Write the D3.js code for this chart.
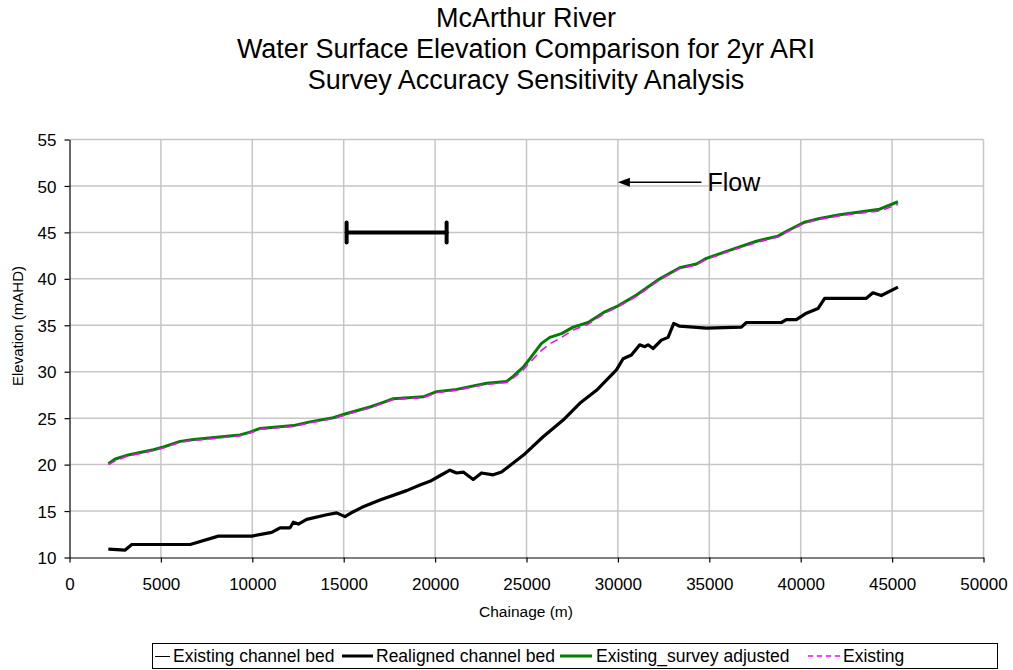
<!DOCTYPE html>
<html><head><meta charset="utf-8">
<script src="https://cdn.jsdelivr.net/npm/d3@7"></script>
<style>body{margin:0;background:#fff;} text{font-family:"Liberation Sans",Arial,sans-serif;}</style>
</head><body><svg id="c" width="1013" height="670"></svg>
<script>
const titleLines = ["McArthur River","Water Surface Elevation Comparison for 2yr ARI","Survey Accuracy Sensitivity Analysis"];
const xTicks = [0,5000,10000,15000,20000,25000,30000,35000,40000,45000,50000];
const yTicks = [10,15,20,25,30,35,40,45,50,55];
const seriesNames = ["Existing channel bed","Realigned channel bed","Existing_survey adjusted","Existing"];

const bedX = [2130,3045,3410,6600,8145,9970,11060,11520,12065,12245,12520,12975,14070,14615,15070,15500,16000,16985,18440,19170,19720,20260,20810,21175,21540,22085,22540,23180,23635,24820,25910,27005,27915,28830,29920,30285,30740,31195,31470,31650,31925,32380,32745,33055,33380,34840,36755,37030,38945,39215,39760,40310,40945,41310,43590,43950,44410,45320];
const existingBedY = [10.9,10.8,11.4,11.4,12.3,12.3,12.7,13.2,13.2,13.8,13.6,14.1,14.6,14.8,14.4,14.9,15.4,16.2,17.2,17.8,18.2,18.8,19.4,19.1,19.2,18.4,19.1,18.9,19.2,21.0,23.0,24.8,26.6,28.0,30.2,31.4,31.8,32.9,32.7,32.9,32.5,33.4,33.7,35.2,34.9,34.7,34.8,35.3,35.3,35.6,35.6,36.3,36.8,37.9,37.9,38.5,38.2,39.1];
const realignedBedY = [10.9,10.8,11.4,11.4,12.3,12.3,12.7,13.2,13.2,13.8,13.6,14.1,14.6,14.8,14.4,14.9,15.4,16.2,17.2,17.8,18.2,18.8,19.4,19.1,19.2,18.4,19.1,18.9,19.2,21.0,23.0,24.8,26.6,28.0,30.2,31.4,31.8,32.9,32.7,32.9,32.5,33.4,33.7,35.2,34.9,34.7,34.8,35.3,35.3,35.6,35.6,36.3,36.8,37.9,37.9,38.5,38.2,39.1];

const wseX = [2130,2500,3140,4590,5140,6050,6780,9330,9880,10425,12245,13155,14430,15070,16437,17165,17710,19350,20080,21175,22815,23910,24270,24820,25185,25820,26275,26915,27550,28370,29285,29920,31015,32290,33380,34295,34840,36295,37575,38755,39305,40215,41035,42130,44315,45320];
const surveyAdjY = [20.1,20.6,21.0,21.6,21.9,22.5,22.7,23.2,23.5,23.9,24.2,24.6,25.05,25.45,26.2,26.7,27.1,27.3,27.85,28.1,28.75,28.95,29.5,30.5,31.4,33.05,33.7,34.1,34.8,35.3,36.45,37.0,38.25,40.0,41.2,41.6,42.2,43.2,44.05,44.6,45.2,46.1,46.5,46.9,47.5,48.3];
const existingY = [20.0,20.4,20.9,21.5,21.8,22.4,22.6,23.1,23.4,23.8,24.1,24.5,24.95,25.35,26.1,26.6,27.0,27.2,27.75,28.0,28.65,28.85,29.3,30.2,31.0,32.3,33.0,33.7,34.5,35.1,36.3,36.9,38.1,39.9,41.1,41.5,42.1,43.1,43.9,44.5,45.1,46.0,46.4,46.8,47.3,48.0];

// annotations (data units)
const scaleBar = {x0:15160, x1:20630, y:45};
const flowArrow = {xFrom:34570, xTo:30000, y:50.4, label:"Flow"};

const svg = d3.select("#c");
const L=69.5, R=983.5, T=139.5, B=557.5;
const x = d3.scaleLinear().domain([0,50000]).range([L,R]);
const y = d3.scaleLinear().domain([10,55]).range([B,T]);

// title
svg.append("g").selectAll("text").data(titleLines).join("text")
  .attr("x",526).attr("y",(d,i)=>27+i*31).attr("text-anchor","middle")
  .style("font-size","27px").attr("fill","#000").text(d=>d);

// gridlines
const g = svg.append("g");
g.selectAll("line.h").data(yTicks.filter(v=>v>10)).join("line")
  .attr("x1",L).attr("x2",R).attr("y1",d=>y(d)).attr("y2",d=>y(d))
  .attr("stroke","#c6c6c6").attr("stroke-width",1.5);
g.selectAll("line.v").data(xTicks.filter(v=>v>0)).join("line")
  .attr("x1",d=>x(d)).attr("x2",d=>x(d)).attr("y1",T).attr("y2",B)
  .attr("stroke","#c6c6c6").attr("stroke-width",1.5);

// axes
const xa = svg.append("g").attr("transform",`translate(0,${B})`)
  .call(d3.axisBottom(x).tickValues(xTicks).tickFormat(d3.format("d")).tickSize(5).tickSizeOuter(0));
const ya = svg.append("g").attr("transform",`translate(${L},0)`)
  .call(d3.axisLeft(y).tickValues(yTicks).tickFormat(d3.format("d")).tickSize(5).tickSizeOuter(0));
[xa,ya].forEach(a=>{
  a.attr("font-size",null).attr("font-family",null);
  a.selectAll("path,line").attr("stroke","#000").attr("stroke-width",1.2);
  a.selectAll("text").style("font-size","17px").style("font-family","'Liberation Sans', Arial, sans-serif").attr("fill","#000");
});
xa.selectAll("text").attr("y",20).attr("dy","0.71em");
ya.selectAll("text").attr("x",-13).attr("dy","0.36em");

svg.append("text").attr("x",526).attr("y",617).attr("text-anchor","middle")
  .style("font-size","15.5px").text("Chainage (m)");
svg.append("text").attr("transform","translate(23,326) rotate(-90)").attr("text-anchor","middle")
  .style("font-size","15px").text("Elevation (mAHD)");

// lines
const line = d3.line().x(d=>x(d[0])).y(d=>y(d[1]));
const zip = (a,b)=>a.map((v,i)=>[v,b[i]]);
svg.append("path").attr("d",line(zip(bedX,realignedBedY))).attr("fill","none")
  .attr("stroke","#000").attr("stroke-width",3.2).attr("stroke-linejoin","round");
svg.append("path").attr("d",line(zip(bedX,existingBedY))).attr("fill","none")
  .attr("stroke","#000").attr("stroke-width",1);
svg.append("path").attr("d",line(zip(wseX,surveyAdjY))).attr("fill","none")
  .attr("stroke","#008000").attr("stroke-width",3).attr("stroke-linejoin","round");
svg.append("path").attr("d",line(zip(wseX,existingY))).attr("fill","none")
  .attr("stroke","#ff00ff").attr("stroke-width",1.5).attr("stroke-dasharray","8,5");

// scale bar
const sb = svg.append("g").attr("stroke","#000").attr("stroke-linecap","round");
sb.append("line").attr("x1",x(scaleBar.x0)).attr("x2",x(scaleBar.x1)).attr("y1",y(scaleBar.y)).attr("y2",y(scaleBar.y)).attr("stroke-width",4);
[scaleBar.x0,scaleBar.x1].forEach(v=>sb.append("line").attr("x1",x(v)).attr("x2",x(v))
  .attr("y1",y(scaleBar.y)-10).attr("y2",y(scaleBar.y)+10).attr("stroke-width",4));

// flow arrow
const ay = y(flowArrow.y);
svg.append("line").attr("x1",x(flowArrow.xFrom)).attr("x2",x(flowArrow.xTo)+8).attr("y1",ay).attr("y2",ay)
  .attr("stroke","#000").attr("stroke-width",1.3);
svg.append("path").attr("d",`M${x(flowArrow.xTo)},${ay} l12,-4.5 l0,9 z`).attr("fill","#000");
svg.append("text").attr("x",x(flowArrow.xFrom)+6).attr("y",ay+9).style("font-size","25px").text(flowArrow.label);

// legend
const lg = svg.append("g");
lg.append("rect").attr("x",152.5).attr("y",643.5).attr("width",845).attr("height",25)
  .attr("fill","#fff").attr("stroke","#000").attr("stroke-width",1);
const legItems = [
  {name:seriesNames[0],x1:155,x2:170,tx:173,stroke:"#000",w:1,dash:null},
  {name:seriesNames[1],x1:342,x2:373,tx:376,stroke:"#000",w:3,dash:null},
  {name:seriesNames[2],x1:560,x2:592,tx:596,stroke:"#008000",w:3,dash:null},
  {name:seriesNames[3],x1:808,x2:840,tx:843,stroke:"#ff00ff",w:1.5,dash:"5,4"}
];
legItems.forEach(d=>{
  const ly = d.w===1 ? 656.5 : 656;
  lg.append("line").attr("x1",d.x1).attr("x2",d.x2).attr("y1",ly).attr("y2",ly)
    .attr("stroke",d.stroke).attr("stroke-width",d.w).attr("stroke-dasharray",d.dash);
  lg.append("text").attr("x",d.tx).attr("y",662).style("font-size","17.5px").text(d.name);
});
</script></body></html>
